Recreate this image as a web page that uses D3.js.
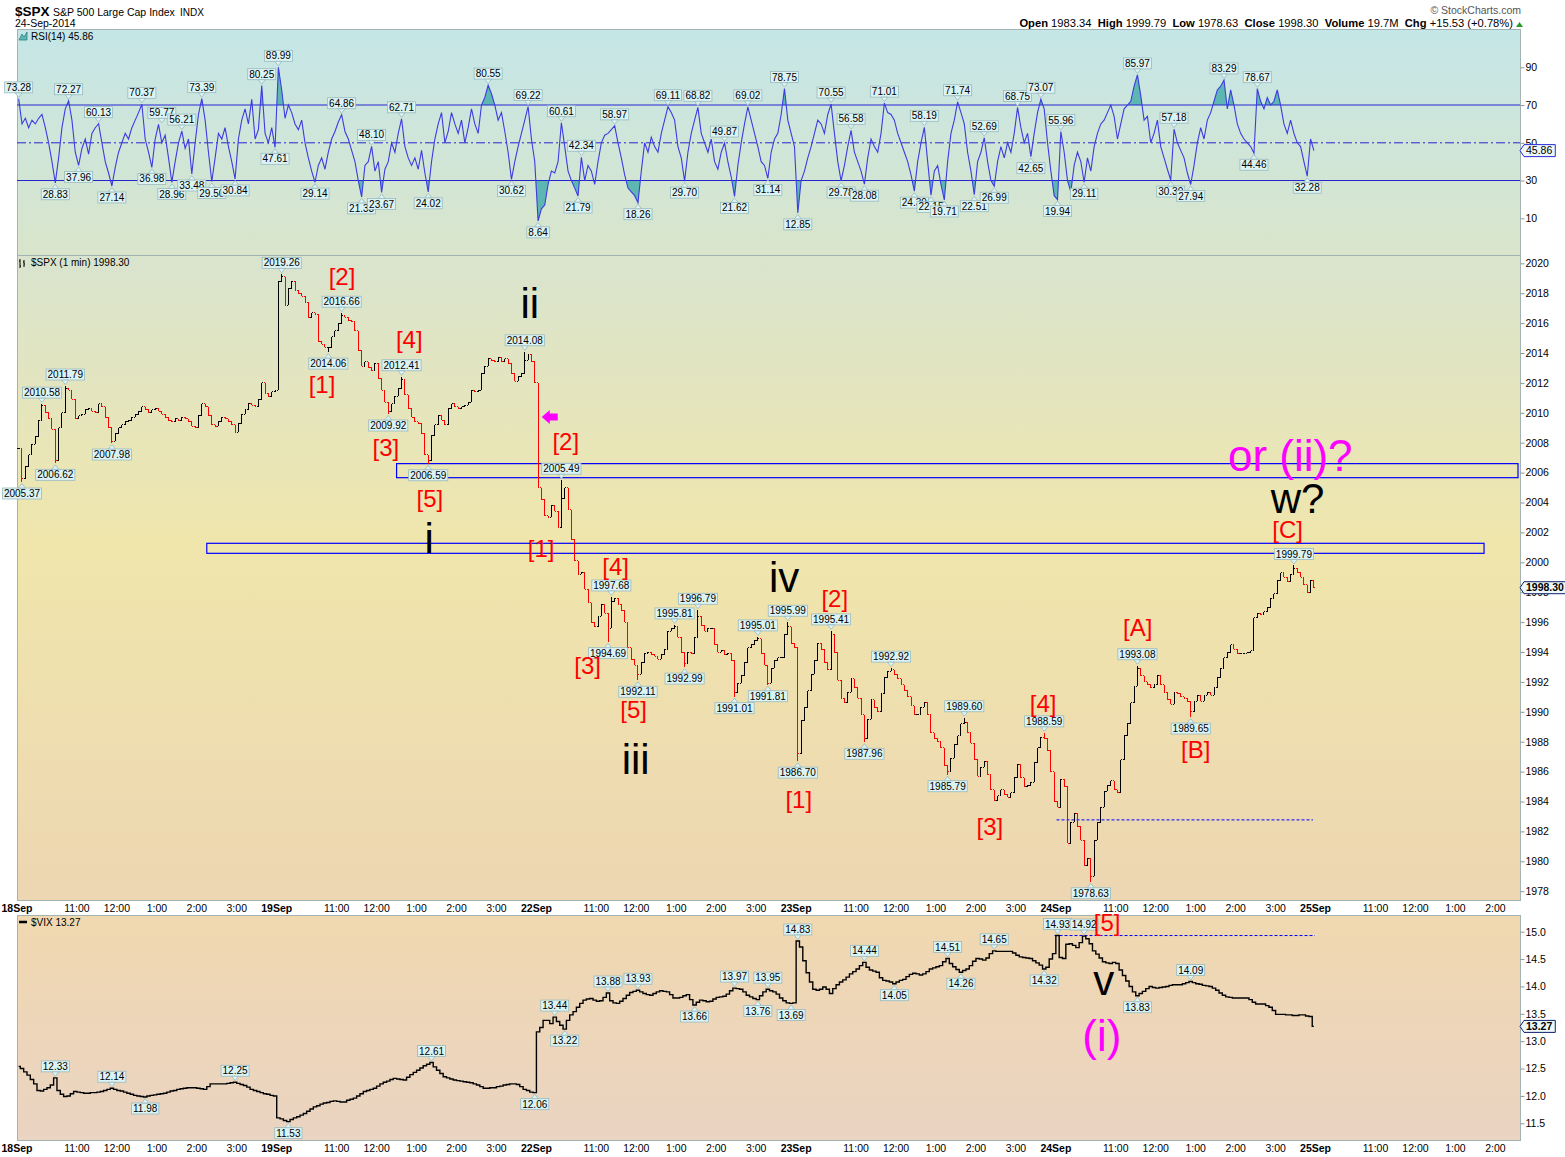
<!DOCTYPE html>
<html><head><meta charset="utf-8"><title>$SPX 1 min</title>
<script src="https://cdn.jsdelivr.net/npm/d3@7/dist/d3.min.js"></script>
<style>
html,body{margin:0;padding:0;background:#fff;}
svg text{font-family:"Liberation Sans",Arial,sans-serif;}
</style></head><body>
<svg id="chart" width="1565" height="1157" xmlns="http://www.w3.org/2000/svg"></svg>
<script>
// ================= DATA =================
const DAYS = ["18Sep","19Sep","22Sep","23Sep","24Sep","25Sep"];
const HOURS = ["11:00","12:00","1:00","2:00","3:00"];
const HOUR_MIN = [90,150,210,270,330];          // minutes after 9:30
const priceTicks = [1978,1980,1982,1984,1986,1988,1990,1992,1994,1996,1998,2000,2002,2004,2006,2008,2010,2012,2014,2016,2018,2020];
const rsiTicks = [10,30,50,70,90];
const vixTicks = [11.5,12.0,12.5,13.0,13.5,14.0,14.5,15.0];

// $SPX 5-minute closes, one array per session
const spx18 = [2007.6,2005.6,2006.4,2007.2,2007.9,2008.4,2009.5,2010.5,2010.0,2009.6,
 2008.9,2006.8,2009.0,2010.0,2011.6,2011.5,2010.9,2009.6,2009.8,2009.9,
 2010.2,2010.3,2010.1,2010.0,2010.6,2010.4,2009.7,2009.0,2008.1,2008.6,
 2009.0,2009.2,2009.4,2009.5,2009.7,2009.9,2010.1,2010.4,2010.2,2010.0,
 2010.2,2010.3,2010.1,2009.9,2009.7,2009.5,2009.4,2009.6,2009.5,2009.7,
 2009.6,2009.4,2009.1,2009.0,2009.8,2010.6,2010.4,2009.8,2009.2,2009.1,
 2009.4,2009.7,2009.6,2009.4,2009.2,2008.7,2009.3,2009.9,2010.2,2010.6,
 2010.5,2010.4,2010.9,2012.0,2011.3,2011.1,2011.4,2011.5];
const spx19 = [2018.8,2019.1,2017.2,2018.3,2018.8,2018.2,2018.0,2017.8,2017.4,2016.4,
 2016.7,2016.6,2014.8,2014.6,2014.4,2014.4,2015.1,2015.5,2016.0,2016.5,
 2016.4,2016.2,2016.1,2015.5,2014.2,2013.1,2013.4,2013.0,2012.8,2013.3,
 2012.3,2011.5,2010.7,2010.1,2010.6,2011.1,2011.6,2012.2,2011.2,2010.3,
 2009.7,2009.4,2009.3,2008.6,2007.2,2006.8,2008.5,2009.2,2009.8,2009.5,
 2009.2,2010.3,2010.6,2010.4,2010.3,2010.4,2010.5,2010.7,2011.5,2011.4,
 2011.5,2012.6,2013.1,2013.6,2013.5,2013.4,2013.7,2013.4,2013.6,2013.3,
 2012.6,2012.1,2012.4,2012.6,2013.5,2013.9,2013.4,2012.0];
const spx22 = [2005.0,2004.2,2003.1,2003.0,2003.8,2003.4,2002.3,2004.3,2005.0,2003.5,
 2001.5,2000.1,1999.2,1999.3,1998.2,1997.3,1996.0,1995.7,1996.4,1997.2,
 1996.6,1995.6,1997.4,1997.6,1997.2,1996.8,1996.0,1994.3,1993.5,1993.1,
 1992.5,1993.3,1993.9,1994.0,1993.8,1993.7,1993.5,1993.8,1994.2,1995.4,
 1995.6,1995.7,1995.0,1994.0,1993.2,1994.0,1993.9,1995.0,1996.4,1995.8,
 1995.4,1995.6,1995.6,1994.5,1994.0,1994.1,1993.8,1993.9,1993.4,1991.3,
 1991.9,1992.4,1993.3,1994.3,1994.5,1994.8,1994.9,1993.9,1993.1,1991.9,
 1992.9,1993.4,1993.6,1993.6,1995.2,1995.7,1994.6,1994.3];
const spx23 = [1987.2,1989.4,1990.3,1991.4,1992.5,1993.4,1994.6,1994.2,1993.3,1992.8,
 1995.2,1994.0,1992.1,1990.9,1990.6,1991.3,1992.2,1991.6,1990.9,1989.8,
 1988.2,1989.5,1990.8,1990.3,1990.0,1991.2,1992.3,1992.7,1992.8,1992.5,
 1992.2,1991.8,1991.4,1991.0,1990.4,1989.8,1989.8,1990.3,1990.6,1989.8,
 1988.6,1988.2,1988.0,1987.6,1986.4,1986.0,1986.9,1987.8,1988.4,1989.2,
 1989.3,1988.6,1987.9,1986.8,1985.7,1986.3,1986.7,1985.8,1984.8,1984.1,
 1984.4,1984.8,1984.5,1984.3,1984.6,1985.6,1986.5,1985.6,1985.0,1985.1,
 1985.3,1986.6,1987.6,1988.3,1988.2,1987.4,1986.0,1984.0];
const spx24 = [1983.6,1985.5,1985.0,1981.2,1982.6,1983.2,1982.3,1981.4,1979.7,1980.2,
 1979.0,1981.4,1982.6,1983.6,1984.7,1985.1,1985.4,1984.8,1984.6,1986.8,
 1988.4,1989.2,1990.6,1991.7,1992.9,1992.4,1992.0,1991.8,1991.6,1991.8,
 1992.4,1991.8,1991.3,1990.8,1990.5,1991.3,1991.2,1991.0,1990.9,1990.7,
 1990.0,1990.7,1991.1,1990.7,1991.1,1991.3,1991.1,1991.6,1992.3,1992.9,
 1993.6,1994.0,1994.5,1994.2,1993.9,1993.9,1993.9,1994.0,1994.1,1996.3,
 1996.6,1996.5,1996.7,1997.0,1997.6,1997.9,1998.8,1999.3,1999.0,1998.7,
 1999.2,1999.6,1999.3,1999.0,1998.5,1998.0,1998.8,1998.3];

// RSI(14), 5-minute samples
const rsi18 = [73.3,60,63,58,62,60,63,65,58,50, 40,28.8,42,58,68,72.3,62,45,38,47,
 52,44,55,58,60.1,50,40,34,27.1,37, 45,50,55,52,58,62,66,70.4,52,45,
 37,52,59.8,50,54,42,29,40,50,56.2, 47,52,33.5,50,65,73.4,62,45,29.5,42,
 55,52,58,48,40,30.8,52,62,68,60, 73,52,57,80.3,55,50,58,47.6];
const rsi19 = [90.0,78,63,70,66,60,57,62,50,42, 35,29.1,38,42,36,45,52,56,61,64.9,
 56,52,46,40,30,21.3,38,40,48.1,35, 40,23.7,36,40,50,45,55,62.7,48,42,
 38,42,36,46,34,24,40,52,60,66, 50,56,66,60,55,62,50,58,68,60,
 55,70,74,80.5,76,70,62,66,56,45, 30.6,40,48,55,62,69.2,52,40];
const rsi22 = [8.6,15,17,28,35,34,40,60.6,48,35, 30,26,21.8,42.3,30,38,35,28,40,50,
 54,55,57,59.0,50,42,33,26,24,22, 18.3,35,50,45,53,48,45,55,62,69.1,
 66,62,48,42,29.7,45,55,62,68.8,55, 50,45,52,40,36,45,49.9,40,32,21.6,
 38,50,60,69.0,62,55,48,40,38,31.1, 45,52,55,65,78.7,62,55,48];
const rsi23 = [12.9,30,35,42,48,55,62,60,55,65, 70.5,55,40,29.8,38,48,56.6,45,40,35,
 28.1,42,52,48,45,55,71.0,66,65,62, 55,50,45,40,33,24.4,40,50,58.2,40,
 22.2,35,38,28,19.7,40,55,62,71.7,66, 60,45,35,22.5,40,45,52.7,40,30,27.0,
 40,48,42,50,45,55,68.8,58,50,55, 42.7,55,66,73.1,68,50,35,22];
const rsi24 = [19.9,56,45,30,24,38,45,40,29.1,42, 35,48,55,60,62,66,70,64,52,60,
 68,70,72,80,86.0,75,62,64,50,55, 62,48,42,36,30.3,57.2,50,46,42,34,
 27.9,38,50,58,52,62,66,72,78,80, 83.3,68,78,70,60,55,52,50,48,44.5,
 78.7,72,68,74,70,72,78,70,60,55, 62,55,50,48,40,32.3,52,45.9];

// $VIX, 5-minute samples
const vix18 = [12.54,12.5,12.44,12.38,12.3,12.22,12.1,12.09,12.12,12.15,
 12.2,12.33,12.1,12.03,11.99,12.0,12.04,12.08,12.07,12.06,
 12.05,12.05,12.06,12.06,12.07,12.08,12.1,12.12,12.14,12.12,
 12.1,12.09,12.07,12.05,12.03,12.01,12.0,11.99,11.98,12.0,
 12.01,12.02,12.03,12.04,12.05,12.07,12.09,12.1,12.12,12.13,
 12.14,12.15,12.15,12.15,12.14,12.13,12.12,12.17,12.22,12.22,
 12.22,12.22,12.22,12.23,12.24,12.25,12.23,12.21,12.19,12.16,
 12.12,12.1,12.08,12.06,12.04,12.03,12.01,12.0];
const vix19 = [11.6,11.58,11.55,11.53,11.57,11.6,11.62,11.65,11.68,11.72,
 11.76,11.8,11.82,11.85,11.87,11.88,11.9,11.91,11.9,11.89,
 11.89,11.92,11.94,11.96,12.0,12.04,12.08,12.1,12.12,12.14,
 12.18,12.22,12.25,12.27,12.3,12.32,12.31,12.3,12.29,12.34,
 12.39,12.43,12.47,12.51,12.55,12.58,12.61,12.53,12.47,12.41,
 12.35,12.33,12.31,12.29,12.28,12.27,12.26,12.25,12.24,12.22,
 12.2,12.17,12.14,12.14,12.15,12.15,12.17,12.18,12.2,12.21,
 12.22,12.22,12.21,12.17,12.12,12.1,12.07,12.06];
const vix22 = [13.17,13.25,13.38,13.38,13.32,13.44,13.36,13.29,13.22,13.38,
 13.48,13.54,13.62,13.69,13.75,13.77,13.78,13.75,13.73,13.74,
 13.8,13.88,13.74,13.7,13.69,13.73,13.78,13.84,13.89,13.91,
 13.93,13.9,13.87,13.85,13.84,13.87,13.9,13.92,13.91,13.9,
 13.85,13.79,13.79,13.8,13.83,13.85,13.76,13.66,13.71,13.75,
 13.74,13.72,13.73,13.77,13.8,13.81,13.82,13.86,13.92,13.97,
 13.96,13.95,13.9,13.84,13.81,13.78,13.76,13.83,13.9,13.95,
 13.92,13.9,13.86,13.79,13.74,13.7,13.69,13.7];
const vix23 = [14.83,14.72,14.47,14.25,14.08,13.95,13.93,13.95,13.99,13.95,
 13.87,13.96,14.03,14.08,14.12,14.17,14.23,14.27,14.32,14.38,
 14.44,14.35,14.3,14.28,14.26,14.16,14.11,14.1,14.08,14.05,
 14.08,14.11,14.13,14.18,14.22,14.24,14.23,14.21,14.23,14.27,
 14.32,14.34,14.36,14.38,14.45,14.51,14.42,14.36,14.31,14.26,
 14.29,14.32,14.38,14.46,14.51,14.5,14.48,14.52,14.6,14.65,
 14.64,14.64,14.64,14.64,14.64,14.61,14.57,14.54,14.53,14.52,
 14.51,14.47,14.43,14.39,14.32,14.35,14.5,14.6];
const vix24 = [14.93,14.53,14.51,14.77,14.78,14.75,14.71,14.8,14.92,14.87,
 14.78,14.65,14.59,14.52,14.45,14.43,14.42,14.44,14.42,14.3,
 14.2,14.1,14.0,13.9,13.83,13.87,13.91,13.96,14.0,13.98,
 13.97,13.98,13.99,14.0,14.02,14.03,14.03,14.03,14.05,14.07,
 14.09,14.07,14.05,14.04,14.02,14.01,14.0,13.97,13.93,13.88,
 13.84,13.81,13.8,13.79,13.79,13.79,13.79,13.79,13.76,13.71,
 13.68,13.68,13.68,13.65,13.62,13.56,13.49,13.49,13.49,13.48,
 13.48,13.47,13.47,13.48,13.48,13.46,13.45,13.27];

// value call-outs: [session, minutes after open, value, +1 above / -1 below]
const spxMarks = [
 [0,6,2005.37,-1],[0,37,2010.58,1],[0,74,2011.79,1],[0,56,2006.62,-1],[0,143,2007.98,-1],
 [1,8,2019.26,1],[1,99,2016.66,1],[1,75,2014.06,-1],[1,188,2012.41,1],[1,168,2009.92,-1],[1,227,2006.59,-1],[1,373,2014.08,1],
 [2,37,2005.49,1],[2,113,1997.68,1],[2,106,1994.69,-1],[2,152,1992.11,-1],[2,206,1995.81,1],[2,221,1992.99,-1],[2,241,1996.79,1],
 [2,332,1995.01,1],[2,296,1991.01,-1],[2,348,1991.81,-1],[2,375,1995.99,1],
 [3,1,1986.70,-1],[3,52,1995.41,1],[3,103,1987.96,-1],[3,142,1992.92,1],[3,250,1989.60,1],[3,229,1985.79,-1],[3,370,1988.59,1],
 [4,52,1978.63,-1],[4,123,1993.08,1],[4,204,1989.65,-1],[4,359,1999.79,1]
];
const rsiMarks = [
 [0,0,73.28,1],[0,56,28.83,-1],[0,75,72.27,1],[0,93,37.96,-1],[0,122,60.13,1],[0,140,27.14,-1],[0,185,70.37,1],[0,201,36.98,-1],
 [0,215,59.77,1],[0,231,28.96,-1],[0,248,56.21,1],[0,264,33.48,-1],[0,279,73.39,1],[0,291,29.50,-1],[0,329,30.84,-1],[0,369,80.25,1],[0,387,47.61,-1],
 [1,2,89.99,1],[1,57,29.14,-1],[1,98,64.86,1],[1,126,21.33,-1],[1,144,48.10,1],[1,156,23.67,-1],[1,188,62.71,1],[1,226,24.02,-1],
 [1,317,80.55,1],[1,352,30.62,-1],[1,376,69.22,1],
 [2,1,8.64,-1],[2,38,60.61,1],[2,61,21.79,-1],[2,67,42.34,1],[2,115,58.97,1],[2,151,18.26,-1],[2,199,69.11,1],[2,221,29.70,-1],
 [2,241,68.82,1],[2,284,49.87,1],[2,296,21.62,-1],[2,318,69.02,1],[2,348,31.14,-1],[2,374,78.75,1],
 [3,1,12.85,-1],[3,52,70.55,1],[3,66,29.78,-1],[3,81,56.58,1],[3,102,28.08,-1],[3,130,71.01,1],[3,178,24.39,-1],[3,193,58.19,1],
 [3,204,22.15,-1],[3,220,19.71,-1],[3,244,71.74,1],[3,268,22.51,-1],[3,282,52.69,1],[3,295,26.99,-1],[3,331,68.75,1],[3,351,42.65,-1],[3,367,73.07,1],
 [4,0,19.94,-1],[4,7,55.96,1],[4,42,29.11,-1],[4,123,85.97,1],[4,171,30.30,-1],[4,178,57.18,1],[4,204,27.94,-1],[4,253,83.29,1],
 [4,295,44.46,-1],[4,301,78.67,1],[4,378,32.28,-1]
];
const vixMarks = [
 [0,56,12.33,1],[0,143,12.14,1],[0,191,11.98,-1],[0,329,12.25,1],
 [1,18,11.53,-1],[1,230,12.61,1],[1,385,12.06,-1],
 [2,29,13.44,1],[2,43,13.22,-1],[2,106,13.88,1],[2,152,13.93,1],[2,238,13.66,-1],[2,298,13.97,1],[2,333,13.76,-1],[2,349,13.95,1],[2,382,13.69,-1],
 [3,2,14.83,1],[3,102,14.44,1],[3,145,14.05,-1],[3,226,14.51,1],[3,248,14.26,-1],[3,296,14.65,1],[3,372,14.32,-1],
 [4,0,14.93,1],[4,42,14.92,1],[4,123,13.83,-1],[4,203,14.09,1]
];

// Elliott-wave annotations: [text, session, minute, level (baseline), colour key]
const waveSpx = [
 ['[2]',1,98,2018.55,'r'],['[1]',1,68,2011.32,'r'],['[4]',1,199,2014.33,'r'],['[3]',1,164,2007.08,'r'],['[5]',1,230,2003.73,'r'],
 ['i',1,229,2000.62,'k'],['ii',1,380,2016.36,'k'],
 ['[2]',2,44,2007.51,'r'],['[1]',2,7,2000.35,'r'],['[4]',2,119,1999.12,'r'],['[3]',2,77,1992.53,'r'],['[5]',2,146,1989.59,'r'],
 ['iii',2,149,1985.84,'k'],['iv',2,372,1998.03,'k'],
 ['[2]',3,58,1997.04,'r'],['[1]',3,4,1983.57,'r'],['[3]',3,291,1981.76,'r'],['[4]',3,371,1990.02,'r'],
 ['[A]',4,123,1995.07,'r'],['[B]',4,210,1986.91,'r'],['[C]',4,348,2001.63,'r'],
 ['w?',4,363,2003.30,'k'],['or (ii)?',4,352,2006.11,'m']
];
const waveVix = [['[5]',4,77,15.013,'r'],['v',4,72,13.844,'k'],['(i)',4,69,12.821,'m']];
const arrowAt = [2,20,2009.72];
// resistance boxes [start minute (global), end minute (global), low, high]
const spxBoxes = [[570,2254,2005.66,2006.60],[285,2203,2000.60,2001.27]];
const spxDotted = [[4,1],[4,386],1982.77];
const vixDotted = [[3,388],[4,389],14.93];

// ================= LAYOUT =================
const L=17,R=1520;
const rsiTop=29,rsiBot=255,pTop=255,pBot=900,vTop=915,vBot=1140;
const T=(d,m)=>d*390+m;
const x=d3.scaleLinear().domain([0,2257]).range([L,R]);
const yR=d3.scaleLinear().domain([10,90]).range([218.3,67.3]);
const yP=d3.scaleLinear().domain([1978,2020]).range([891.2,263.3]);
const yV=d3.scaleLinear().domain([11.5,15]).range([1123.3,931.7]);
const snap=m=>Math.min(77,Math.floor(m/5))*5+2.5;
const COL={r:'#ff0000',k:'#000000',m:'#ff00ff'};

const svg=d3.select('#chart');
const defs=svg.append('defs');
function grad(id,stops){const g=defs.append('linearGradient').attr('id',id).attr('x1',0).attr('y1',0).attr('x2',0).attr('y2',1);
 stops.forEach(([o,c])=>g.append('stop').attr('offset',o).attr('stop-color',c));}
grad('gR',[[0,'#c5e6e7'],[1,'#d9e5cb']]);
grad('gP',[[0,'#d9e4ce'],[0.45,'#f0e6ac'],[1,'#edd6b2']]);
grad('gV',[[0,'#f0d8b0'],[1,'#ead4c2']]);
function clip(id,y0,y1){defs.append('clipPath').attr('id',id).append('rect').attr('x',L).attr('y',y0).attr('width',R-L).attr('height',y1-y0);}
clip('cR',rsiTop,rsiBot);clip('cP',pTop,pBot);clip('cV',vTop,vBot);
clip('cR70',rsiTop,yR(70));clip('cR30',yR(30),rsiBot);

function panel(y0,y1,fill){svg.append('rect').attr('x',L+0.5).attr('y',y0+0.5).attr('width',R-L).attr('height',y1-y0)
 .attr('fill',fill).attr('stroke','#a3b2b2').attr('stroke-width',1);}
panel(rsiTop,rsiBot,'url(#gR)');panel(pTop,pBot,'url(#gP)');panel(vTop,vBot,'url(#gV)');

// call-out helper
function callout(g,X,Y,txt,side){
  const lg=g.append('g');
  const cy= side>0 ? Y-11.5 : Y+11.5;
  const t=lg.append('text').attr('x',X).attr('y',cy+3.6).attr('text-anchor','middle').attr('font-size',10).attr('fill','#000').text(txt);
  const w=t.node().getComputedTextLength()+3;
  lg.insert('rect','text').attr('x',X-w/2).attr('y',cy-5.5).attr('width',w).attr('height',11)
    .attr('fill','#dcf3f4').attr('stroke','#98b9be').attr('stroke-width',0.8);
  const b= side>0 ? cy+5.5 : cy-5.5, tip = side>0 ? Y-1.5 : Y+1.5;
  lg.insert('path','text').attr('d',`M${X-3.5},${b}L${X},${tip}L${X+3.5},${b}Z`).attr('fill','#dcf3f4').attr('stroke','#98b9be').attr('stroke-width',0.8);
}

// ---------- RSI ----------
const rsiPts=[];[rsi18,rsi19,rsi22,rsi23,rsi24].forEach((a,d)=>a.forEach((v,i)=>rsiPts.push({t:T(d,i*5+2.5),v})));
const gR=svg.append('g').attr('clip-path','url(#cR)');
const aR70=d3.area().x(p=>x(p.t)).y0(yR(70)).y1(p=>yR(p.v));
const aR30=d3.area().x(p=>x(p.t)).y0(yR(30)).y1(p=>yR(p.v));
gR.append('path').attr('d',aR70(rsiPts)).attr('fill','#5db6b1').attr('clip-path','url(#cR70)');
gR.append('path').attr('d',aR30(rsiPts)).attr('fill','#5db6b1').attr('clip-path','url(#cR30)');
[70,30].forEach(v=>gR.append('line').attr('x1',L).attr('x2',R).attr('y1',yR(v)).attr('y2',yR(v)).attr('stroke','#2626cf').attr('stroke-width',1.1));
gR.append('line').attr('x1',L).attr('x2',R).attr('y1',yR(50)).attr('y2',yR(50)).attr('stroke','#2626cf').attr('stroke-width',1).attr('stroke-dasharray','9,3,2,3');
gR.append('path').attr('d',d3.line().x(p=>x(p.t)).y(p=>yR(p.v))(rsiPts)).attr('fill','none').attr('stroke','#3c3ce0').attr('stroke-width',1.1);
const gRL=svg.append('g');
rsiMarks.forEach(([d,m,v,s])=>callout(gRL,x(T(d,snap(m))),yR(v),v.toFixed(2),s));

// ---------- SPX ----------
const bars=[];let prev=null;
[spx18,spx19,spx22,spx23,spx24].forEach((a,d)=>a.forEach((c,i)=>{
  const o= prev===null ? c : prev;
  bars.push({t:T(d,i*5+2.5),o,c,hi:Math.max(o,c),lo:Math.min(o,c)});prev=c;}));
spxMarks.forEach(([d,m,v])=>{const b=bars[d*78+Math.min(77,Math.floor(m/5))];b.hi=Math.max(b.hi,v);b.lo=Math.min(b.lo,v);});
const gP=svg.append('g').attr('clip-path','url(#cP)');
spxBoxes.forEach(([t0,t1,lo,hi])=>gP.append('rect').attr('x',x(t0)).attr('y',yP(hi)).attr('width',x(t1)-x(t0)).attr('height',yP(lo)-yP(hi))
  .attr('fill','none').attr('stroke','#0000ff').attr('stroke-width',1.2));
gP.append('line').attr('x1',x(T(...spxDotted[0]))).attr('x2',x(T(...spxDotted[1]))).attr('y1',yP(spxDotted[2])).attr('y2',yP(spxDotted[2]))
  .attr('stroke','#0000ff').attr('stroke-width',1).attr('stroke-dasharray','3,2');
gP.append('g').attr('shape-rendering','crispEdges').selectAll('path').data(bars).join('path')
  .attr('d',b=>{const X=x(b.t);return `M${X},${yP(b.hi)}V${yP(b.lo)}M${X-1.4},${yP(b.o)}H${X}M${X},${yP(b.c)}H${X+1.4}`;})
  .attr('fill','none').attr('stroke',b=>b.c>=b.o?'#000':'#ff0000').attr('stroke-width',1);
const gPL=svg.append('g');
spxMarks.forEach(([d,m,v,s])=>callout(gPL,x(T(d,snap(m))),yP(v),v.toFixed(2),s));

// ---------- VIX ----------
const vixPts=[];[vix18,vix19,vix22,vix23,vix24].forEach((a,d)=>a.forEach((v,i)=>vixPts.push({t:T(d,i*5+2.5),v})));
const gV=svg.append('g').attr('clip-path','url(#cV)');
gV.append('line').attr('x1',x(T(...vixDotted[0]))).attr('x2',x(T(...vixDotted[1]))).attr('y1',yV(vixDotted[2])).attr('y2',yV(vixDotted[2]))
  .attr('stroke','#0000ff').attr('stroke-width',1).attr('stroke-dasharray','3,2');
gV.append('path').attr('d',d3.line().curve(d3.curveStep).x(p=>x(p.t)).y(p=>yV(p.v))(vixPts)).attr('fill','none').attr('stroke','#000').attr('stroke-width',1.4);
const gVL=svg.append('g');
vixMarks.forEach(([d,m,v,s])=>callout(gVL,x(T(d,snap(m))),yV(v),v.toFixed(2),s));

// ---------- wave annotations ----------
const SIZE={r:24,k:42,m:44};
function waves(list,ys,g){list.forEach(([txt,d,m,lv,c])=>g.append('text').attr('x',x(T(d,m))).attr('y',ys(lv))
  .attr('text-anchor','middle').attr('font-size',SIZE[c]).attr('fill',COL[c]).text(txt));}
waves(waveSpx,yP,svg.append('g'));
waves(waveVix,yV,svg.append('g'));
{const ax=x(T(arrowAt[0],arrowAt[1])),ay=yP(arrowAt[2]);
 svg.append('path').attr('d',`M${ax-8},${ay}L${ax},${ay-7}L${ax},${ay-3.5}L${ax+8},${ay-3.5}L${ax+8},${ay+3.5}L${ax},${ay+3.5}L${ax},${ay+7}Z`).attr('fill','#ff00ff');}

// ---------- right axes ----------
function rAxis(scale,major,minor,fmt){
  const g=svg.append('g').attr('transform',`translate(${R+0.5},0)`);
  g.call(d3.axisRight(scale).tickValues(minor).tickSize(2).tickFormat(''));
  g.call(d3.axisRight(scale).tickValues(major).tickSize(4).tickFormat(fmt));
  g.selectAll('.domain').remove();
  g.selectAll('line').attr('stroke','#8a9a9a');
  g.selectAll('text').attr('font-size',10.5).attr('font-family','"Liberation Sans",Arial,sans-serif').attr('x',5).attr('fill','#000');
}
rAxis(yP,priceTicks,d3.range(1978,2020.01,1),d3.format('d'));
rAxis(yR,rsiTicks,d3.range(10,90.01,10),d3.format('d'));
rAxis(yV,vixTicks,d3.range(11.5,15.01,0.1),d3.format('.1f'));
function tag(Y,txt,bold,stroke){
  const g=svg.append('g');
  const t=g.append('text').attr('x',R+6).attr('y',Y+3.7).attr('font-size',10.5).attr('font-weight',bold?'bold':'normal').text(txt);
  const w=t.node().getComputedTextLength()+4;
  g.insert('path','text').attr('d',`M${R},${Y}L${R+4},${Y-6}H${R+5+w}V${Y+6}H${R+4}Z`).attr('fill','#eef8f8').attr('stroke',stroke).attr('stroke-width',1);
}
tag(yP(1998.30),'1998.30',true,'#10206a');
tag(yR(45.86),'45.86',false,'#2a2ad8');
tag(yV(13.27),'13.27',true,'#10206a');

// ---------- time axes ----------
const gX=svg.append('g').attr('font-size',10.5).attr('fill','#000');
[912,1152].forEach(yy=>{
  DAYS.forEach((lab,d)=>{
    gX.append('text').attr('x',x(T(d,0))).attr('y',yy).attr('text-anchor','middle').attr('font-weight','bold').text(lab);
    HOURS.forEach((h,k)=>{const t=T(d,HOUR_MIN[k]); if(t<2250) gX.append('text').attr('x',x(t)).attr('y',yy).attr('text-anchor','middle').text(h);});
  });
});

// ---------- panel legends ----------
const mono='"DejaVu Sans Mono","Liberation Mono",monospace';
svg.append('path').attr('d','M19,40L22,34L24,37L27,32L27,40Z').attr('fill','#5db6b1').attr('stroke','#2f7f80').attr('stroke-width',0.8);
svg.append('text').attr('x',31).attr('y',40).attr('font-family',mono).attr('font-size',10).text('RSI(14) 45.86');
svg.append('path').attr('d','M20,259V268M19,261H20M20,266H21M24,260V267M23,262H24M24,264H25').attr('stroke','#000').attr('stroke-width',1).attr('fill','none');
svg.append('text').attr('x',31).attr('y',266).attr('font-family',mono).attr('font-size',10).text('$SPX (1 min) 1998.30');
svg.append('line').attr('x1',19).attr('x2',27).attr('y1',922).attr('y2',922).attr('stroke','#000').attr('stroke-width',2.5);
svg.append('text').attr('x',31).attr('y',926).attr('font-family',mono).attr('font-size',10).text('$VIX 13.27');

// ---------- header ----------
svg.append('text').attr('x',15).attr('y',16).attr('font-size',13.5).attr('font-weight','bold').text('$SPX');
svg.append('text').attr('x',53).attr('y',15.5).attr('font-size',10.5).text('S&P 500 Large Cap Index');
svg.append('text').attr('x',180).attr('y',15.5).attr('font-size',10).text('INDX');
svg.append('text').attr('x',15).attr('y',27).attr('font-size',10.5).text('24-Sep-2014');
svg.append('text').attr('x',1521).attr('y',14).attr('font-size',10.5).attr('text-anchor','end').attr('fill','#555').text('\u00a9 StockCharts.com');
const info=[['Open','1983.34'],['High','1999.79'],['Low','1978.63'],['Close','1998.30'],['Volume','19.7M'],['Chg','+15.53 (+0.78%)']];
const it=svg.append('text').attr('x',1513).attr('y',27).attr('font-size',11.2).attr('text-anchor','end');
info.forEach(([k,v],i)=>{it.append('tspan').attr('font-weight','bold').text((i?'\u00a0\u00a0':'')+k+'\u00a0');it.append('tspan').text(v);});
svg.append('path').attr('d','M1516,27L1519.5,22L1523,27Z').attr('fill','#2a9a2a');
</script>
</body></html>
